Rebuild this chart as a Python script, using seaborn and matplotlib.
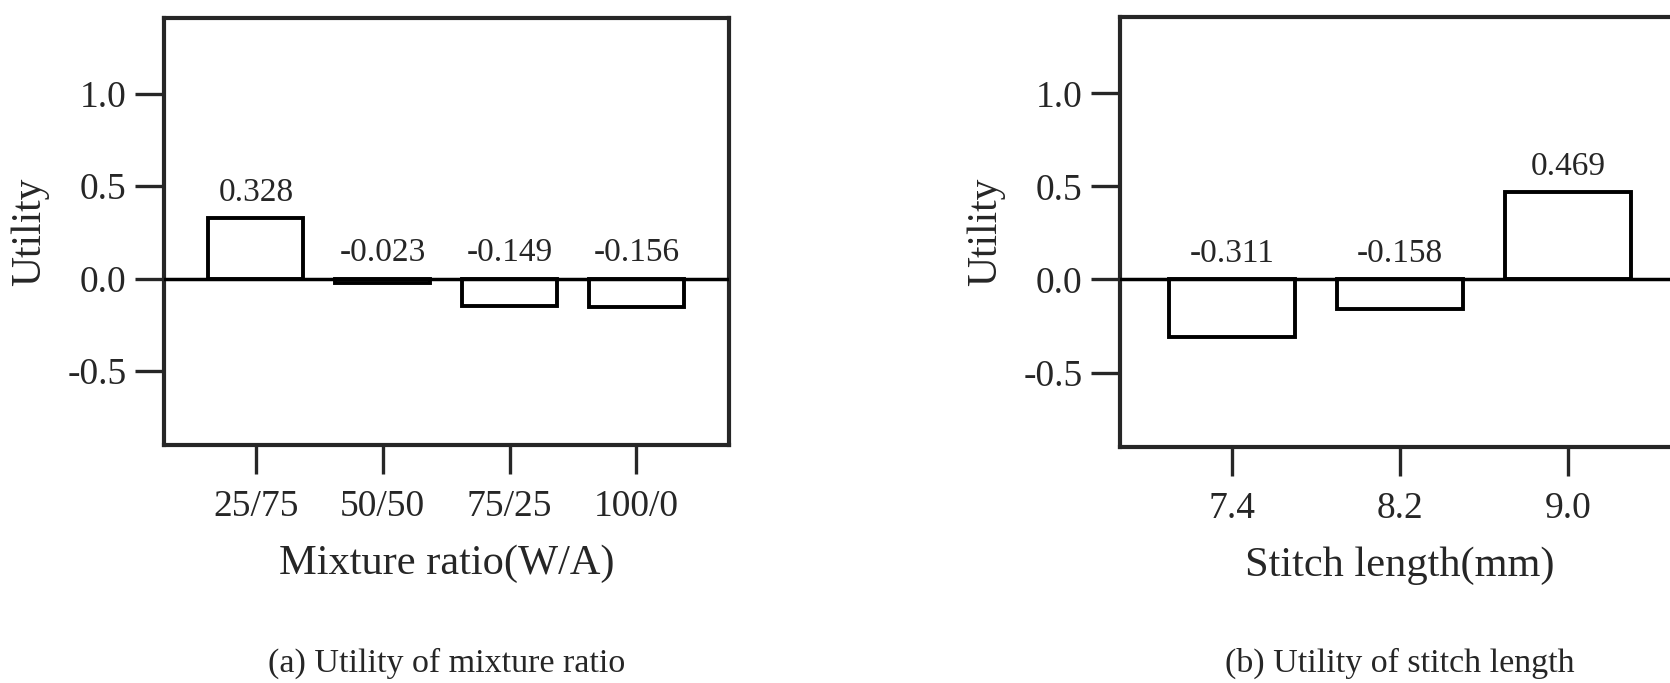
import matplotlib
matplotlib.use("Agg")
import matplotlib.pyplot as plt
import seaborn as sns

# ============================
# Data
# ============================
mixture_ratio = ["25/75", "50/50", "75/25", "100/0"]
mixture_utility = [0.328, -0.023, -0.149, -0.156]

stitch_length = ["7.4", "8.2", "9.0"]
stitch_utility = [-0.311, -0.158, 0.469]

y_ticks = [-0.5, 0.0, 0.5, 1.0]

sns.set_style("ticks")
plt.rcParams['font.family'] = ['Liberation Serif', 'DejaVu Serif']

fig = plt.figure(figsize=(16.7, 6.83), dpi=100)

ax_a = fig.add_axes([0.0982, 0.3485, 0.3383, 0.6252])
ax_b = fig.add_axes([0.6707, 0.3455, 0.3353, 0.6296])


def draw_panel(ax, cats, vals, xlabel, caption, xlim):
    sns.barplot(x=cats, y=vals, color='white', edgecolor='black',
                linewidth=2.8, width=0.75, saturation=1, ax=ax)
    ax.axhline(0, color='black', lw=2.5, zorder=3)

    # value labels over the bars (or over the zero line for negatives)
    for i, v in enumerate(vals):
        ax.text(i, max(v, 0) + 0.055, f'{v:.3f}', ha='center', va='bottom',
                fontsize=24)

    ax.set_xlim(*xlim)
    ax.set_ylim(-0.9, 1.41)
    ax.set_yticks(y_ticks)
    ax.set_yticklabels([f'{t:.1f}' for t in y_ticks])
    ax.tick_params(axis='both', direction='out', length=21, width=2.4,
                   labelsize=27)
    ax.tick_params(axis='y', pad=6)
    ax.tick_params(axis='x', pad=11)
    for s in ax.spines.values():
        s.set_linewidth(3.0)
        s.set_visible(True)
    ax.set_ylabel('Utility', fontsize=30, labelpad=13)
    ax.set_xlabel(xlabel, fontsize=30.5, labelpad=15)

    pos = ax.get_position()
    fig.text((pos.x0 + pos.x1) / 2, 0.029, caption, ha='center', va='center',
             fontsize=24.5)


draw_panel(ax_a, mixture_ratio, mixture_utility, 'Mixture ratio(W/A)',
           '(a) Utility of mixture ratio', (-0.725, 3.73))
draw_panel(ax_b, stitch_length, stitch_utility, 'Stitch length(mm)',
           '(b) Utility of stitch length', (-0.667, 2.667))

fig.savefig('out.png', dpi=100)
